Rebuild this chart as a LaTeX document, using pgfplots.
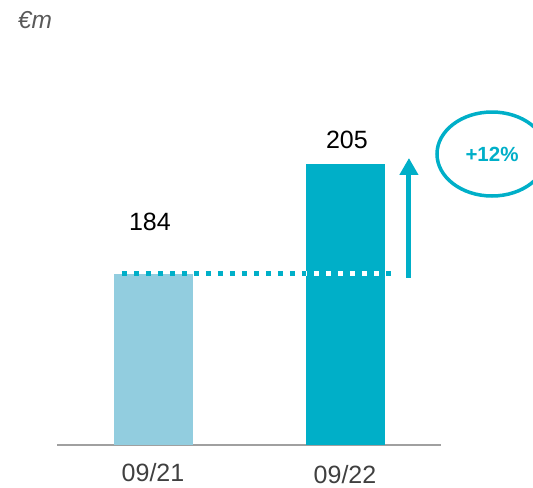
\documentclass[border=0pt]{standalone}
\usepackage{pgfplots}
\pgfplotsset{compat=1.18}
\usepackage{fontspec}
\setmainfont{Liberation Sans}
\usetikzlibrary{arrows.meta}
\definecolor{tealc}{HTML}{00AFC8}
\definecolor{lightc}{HTML}{92CDDF}
\definecolor{axisgray}{HTML}{A0A0A0}
\definecolor{ticktext}{HTML}{404040}
\definecolor{unitgray}{HTML}{595959}
\begin{document}
\begin{tikzpicture}
\begin{axis}[
  at={(57bp,43bp)}, anchor=south west,
  scale only axis, width=384bp, height=400bp,
  xmin=-0.5, xmax=1.5, ymin=151.35, ymax=227.71,
  axis x line=bottom, axis y line=none,
  x axis line style={draw=axisgray, line width=2bp, -},
  xtick={0,1}, xticklabels={09/21,\raisebox{-1.5bp}{09/22}},
  major tick length=0pt,
  xticklabel style={anchor=base, yshift=-37bp, font=\fontsize{25bp}{30bp}\selectfont, text=ticktext},
  ytick=\empty,
  ybar, bar width=79bp, bar shift=0pt,
  clip mode=individual,
]
\addplot[draw=none, fill=lightc] coordinates {(0,184)};
\addplot[draw=none, fill=tealc] coordinates {(1,205)};
\draw[tealc, line width=5bp, dash pattern=on 5bp off 7bp] (axis cs:-0.1615,184) -- (axis cs:1.245,184);
\begin{scope}
\clip (axis cs:0.797,151.35) rectangle (axis cs:1.208,205);
\draw[white, line width=5bp, dash pattern=on 5bp off 7bp] (axis cs:-0.1615,184) -- (axis cs:1.245,184);
\end{scope}
\draw[-{Triangle[width=18bp,length=17bp]}, line width=5bp, tealc] (axis cs:1.333,183.23) -- (axis cs:1.333,206.14);
\draw[tealc, line width=3.5bp] (axis cs:1.7656,206.9) ellipse [x radius=55bp, y radius=42bp];
\node[text=tealc, font=\fontsize{20.5bp}{24bp}\selectfont\bfseries] at (axis cs:1.7656,206.9) {+12\%};
\node[font=\fontsize{25bp}{30bp}\selectfont] at (axis cs:-0.016,193.9) {184};
\node[font=\fontsize{25bp}{30bp}\selectfont] at (axis cs:1.01,209.6) {205};
\end{axis}
\node[font=\fontsize{24.5bp}{29bp}\selectfont\itshape, text=unitgray] at (35bp,468bp) {€m};
\pgfresetboundingbox
\useasboundingbox (0,0) rectangle (533bp,488bp);
\end{tikzpicture}
\end{document}
